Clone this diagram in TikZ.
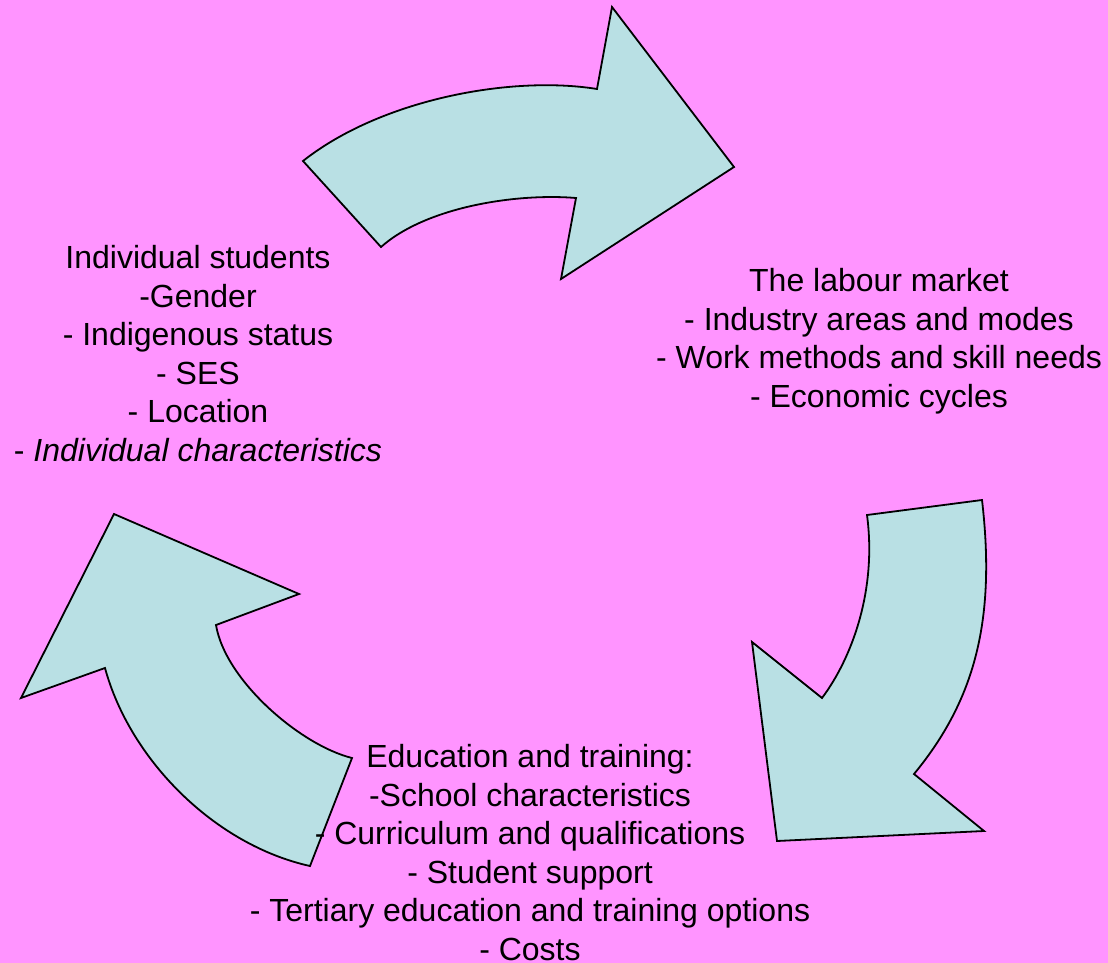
\documentclass[tikz,border=0pt]{standalone}
\usepackage{fontspec}
\setmainfont{Liberation Sans}
\definecolor{bgpink}{RGB}{255,148,255}
\definecolor{arrowfill}{RGB}{185,224,228}
\begin{document}
\begin{tikzpicture}[x=1pt,y=-1pt,
  bigarrow/.style={draw=black, fill=arrowfill, line width=1.8pt, line join=miter},
  label/.style={align=center, anchor=base, inner sep=0pt,
    font=\fontsize{32}{38.5}\selectfont}]
\fill[bgpink] (0,0) rectangle (1108,963);
\useasboundingbox (0,0) rectangle (1108,963);
% top arrow
\draw[bigarrow] (303,161) .. controls (380,100) and (510,75) .. (597,89)
  -- (612,7) -- (734,167) -- (561,279) -- (576,198)
  .. controls (516,193) and (426,207) .. (381,247) -- cycle;
% right arrow
\draw[bigarrow] (867,515) -- (982,500) .. controls (996,620) and (975,700) .. (914,774)
  -- (984,831) -- (777,841) -- (752,642) -- (822,698)
  .. controls (852,658) and (877,590) .. (867,515) -- cycle;
% left arrow
\draw[bigarrow] (310,866) -- (352,758) .. controls (300,745) and (225,680) .. (216,625)
  -- (299,594) -- (114,514) -- (21,698) -- (105,668)
  .. controls (130,760) and (215,845) .. (310,866) -- cycle;
% texts (anchor base = baseline of last line)
\node[label] (students) at (198,461) {Individual students\\-Gender\\- Indigenous status\\- SES\\- Location\\- \textit{Individual characteristics}};
\node[label] (labour) at (879,407) {The labour market\\- Industry areas and modes\\- Work methods and skill needs\\- Economic cycles};
\node[label] (education) at (530,960) {Education and training:\\-School characteristics\\- Curriculum and qualifications\\- Student support\\- Tertiary education and training options\\- Costs};
\end{tikzpicture}
\end{document}
